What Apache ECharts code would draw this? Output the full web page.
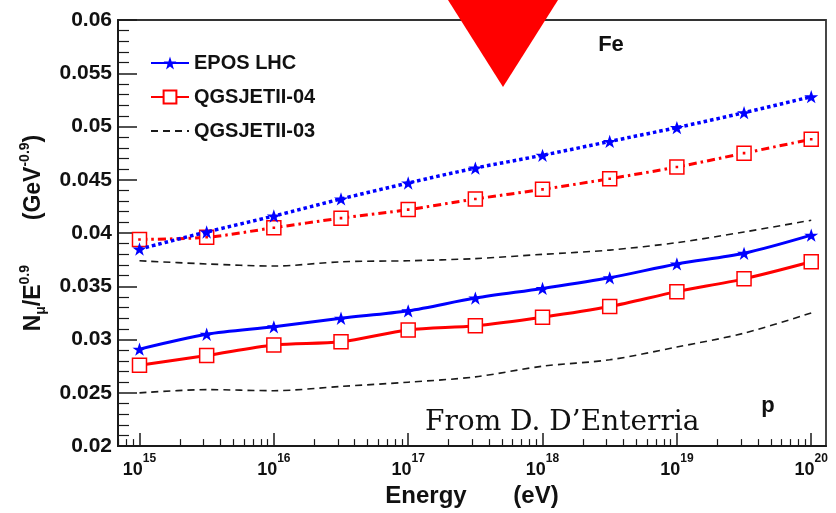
<!DOCTYPE html>
<html>
<head>
<meta charset="utf-8">
<title>Muon number vs energy</title>
<script src="https://cdn.jsdelivr.net/npm/echarts@6/dist/echarts.min.js"></script>
<style>
  html, body { margin: 0; padding: 0; background: #fff; }
  #chart { width: 836px; height: 513px; }
</style>
</head>
<body>
<div id="chart"></div>
<script>
// Primary energy as log10(E / eV)
const energyExp = [15, 15.5, 16, 16.5, 17, 17.5, 18, 18.5, 19, 19.5, 20];

// N_mu / E^0.9 for iron primaries
const eposFe   = [0.0385, 0.0401, 0.0416, 0.0432, 0.0447, 0.0461, 0.0473, 0.0486, 0.0499, 0.0513, 0.0528];
const qgs04Fe  = [0.0394, 0.0396, 0.0405, 0.0414, 0.0422, 0.0432, 0.0441, 0.0451, 0.0462, 0.0475, 0.0488];
const qgs03Fe  = [0.0374, 0.0371, 0.0369, 0.0373, 0.0374, 0.0376, 0.0380, 0.0384, 0.0391, 0.0401, 0.0412];

// N_mu / E^0.9 for proton primaries
const eposP    = [0.0291, 0.0305, 0.0312, 0.0320, 0.0327, 0.0339, 0.0348, 0.0358, 0.0371, 0.0381, 0.0398];
const qgs04P   = [0.0276, 0.0285, 0.0295, 0.0298, 0.0309, 0.0313, 0.0321, 0.0331, 0.0345, 0.0357, 0.0373];
const qgs03P   = [0.0250, 0.0253, 0.0252, 0.0256, 0.0260, 0.0265, 0.0275, 0.0281, 0.0293, 0.0306, 0.0325];

// Axis ticks
const decadeTicks = [15, 16, 17, 18, 19, 20];
const modelNames = ['EPOS LHC', 'QGSJETII-04', 'QGSJETII-03'];

const X_MIN = 14.84, X_MAX = 20.11;
const subDecadeTicks = [];
for (let n = 14; n <= 20; n++) {
  for (let k = 2; k <= 9; k++) {
    const v = n + Math.log10(k);
    if (v >= X_MIN && v <= X_MAX) subDecadeTicks.push(v);
  }
}

const pairs = ys => energyExp.map((x, i) => [x, ys[i]]);

const FONT = 'Liberation Sans, Arial, sans-serif';
const BLUE = '#0000ff', RED = '#ff0000', DARK = '#1a1a1a';
const STAR = 'path://M50,0 L61.8,35.1 L97.6,35.1 L68.5,56.7 L79.4,90.5 L50,69.5 L20.6,90.5 L31.5,56.7 L2.4,35.1 L38.2,35.1 Z';
const SQUARE = 'path://M0,0H20V20H0Z';
const SQUARE_DOT = 'path://M0,0H20V20H0Z M9.2,9.2H10.8V10.8H9.2Z';

function eposSeries(data, dashed) {
  return {
    name: 'EPOS LHC', type: 'line', data: pairs(data), smooth: 0.3,
    symbol: STAR, symbolSize: 14, symbolKeepAspect: true,
    itemStyle: { color: BLUE },
    lineStyle: { color: BLUE, width: dashed ? 3.5 : 3, type: dashed ? [3.5, 3] : 'solid' },
    z: 4
  };
}
function qgs04Series(data, dashed) {
  return {
    name: 'QGSJETII-04', type: 'line', data: pairs(data), smooth: 0.3,
    symbol: dashed ? SQUARE_DOT : SQUARE, symbolSize: 14,
    itemStyle: { color: '#ffffff', borderColor: RED, borderWidth: 1.5 },
    lineStyle: { color: RED, width: 3, type: dashed ? [8, 4, 2.5, 4] : 'solid' },
    z: 3
  };
}
function qgs03Series(data) {
  return {
    name: 'QGSJETII-03', type: 'line', data: pairs(data), smooth: 0.3,
    symbol: 'none',
    itemStyle: { color: DARK },
    lineStyle: { color: DARK, width: 1.6, type: [7, 5] },
    z: 2
  };
}

const chart = echarts.init(document.getElementById('chart'), null, { renderer: 'canvas' });

chart.setOption({
  animation: false,
  backgroundColor: '#ffffff',
  grid: {
    left: 118, right: 10, top: 20, bottom: 65,
    show: true, borderColor: '#333', borderWidth: 1.8, backgroundColor: 'transparent'
  },
  legend: {
    data: [
      { name: modelNames[0] },
      { name: modelNames[1] },
      // dashed line only, no marker
      { name: modelNames[2], itemStyle: { color: 'rgba(0,0,0,0)', borderColor: 'rgba(0,0,0,0)', opacity: 0 } }
    ],
    orient: 'vertical', left: 150, top: 53, padding: 0,
    itemWidth: 38, itemHeight: 16, itemGap: 14,
    textStyle: { fontFamily: FONT, fontWeight: 'bold', fontSize: 20, color: '#111' }
  },
  xAxis: [
    {
      type: 'value', min: X_MIN, max: X_MAX, position: 'bottom',
      name: 'Energy       (eV)', nameLocation: 'middle', nameGap: 37,
      nameTextStyle: { fontFamily: FONT, fontWeight: 'bold', fontSize: 24, color: '#111' },
      axisLine: { show: true, lineStyle: { color: DARK, width: 2 } },
      axisTick: { show: true, inside: true, length: 13, customValues: decadeTicks, lineStyle: { color: DARK, width: 1.5 } },
      axisLabel: {
        customValues: decadeTicks, margin: 7,
        formatter: v => '{b|10}{s|' + Math.round(v) + '}',
        rich: {
          b: { fontFamily: FONT, fontWeight: 'bold', fontSize: 18, lineHeight: 26, verticalAlign: 'bottom', color: '#111' },
          s: { fontFamily: FONT, fontWeight: 'bold', fontSize: 12, lineHeight: 12, verticalAlign: 'top', color: '#111' }
        }
      },
      splitLine: { show: false }
    },
    {
      type: 'value', min: X_MIN, max: X_MAX, position: 'bottom', offset: 0,
      axisLine: { show: false },
      axisTick: { show: true, inside: true, length: 7, customValues: subDecadeTicks, lineStyle: { color: DARK, width: 1.2 } },
      axisLabel: { show: false },
      splitLine: { show: false }
    }
  ],
  yAxis: {
    type: 'value', min: 0.02, max: 0.06, interval: 0.005,
    name: '{m|N}{sub|μ}{m|/E}{sup|0.9}{m|       (GeV}{sup|-0.9}{m|)}',
    nameLocation: 'middle', nameGap: 60,
    nameTextStyle: {
      rich: {
        m:   { fontFamily: FONT, fontWeight: 'bold', fontSize: 23, lineHeight: 30, verticalAlign: 'middle', color: '#111' },
        sup: { fontFamily: FONT, fontWeight: 'bold', fontSize: 14, lineHeight: 14, verticalAlign: 'top', color: '#111' },
        sub: { fontFamily: FONT, fontWeight: 'bold', fontSize: 14, lineHeight: 14, verticalAlign: 'bottom', color: '#111' }
      }
    },
    axisLine: { show: true, lineStyle: { color: DARK, width: 2 } },
    axisTick: { show: true, inside: true, length: 19, lineStyle: { color: DARK, width: 1.5 } },
    minorTick: { show: true, splitNumber: 5, length: 11, lineStyle: { color: DARK, width: 1.2 } },
    axisLabel: {
      margin: 6, fontFamily: FONT, fontWeight: 'bold', fontSize: 21, color: '#111',
      formatter: v => String(parseFloat(v.toFixed(3)))
    },
    splitLine: { show: false },
    minorSplitLine: { show: false }
  },
  series: [
    eposSeries(eposP, false),
    qgs04Series(qgs04P, false),
    qgs03Series(qgs03P),
    eposSeries(eposFe, true),
    qgs04Series(qgs04Fe, true),
    qgs03Series(qgs03Fe)
  ],
  graphic: [
    {
      type: 'text', z: 50,
      style: { text: 'Fe', x: 611, y: 45, fontFamily: FONT, fontWeight: 'bold', fontSize: 22, fill: '#111', textAlign: 'center', verticalAlign: 'middle' }
    },
    {
      type: 'text', z: 50,
      style: { text: 'p', x: 768, y: 406, fontFamily: FONT, fontWeight: 'bold', fontSize: 22, fill: '#111', textAlign: 'center', verticalAlign: 'middle' }
    },
    {
      type: 'text', z: 50,
      style: { text: 'From D. D’Enterria', x: 425, y: 423, fontFamily: 'DejaVu Serif, serif', fontSize: 28, fill: '#111', textAlign: 'left', verticalAlign: 'middle' }
    },
    {
      type: 'polygon', z: 100,
      shape: { points: [[448, 0], [558, 0], [503, 87]] },
      style: { fill: '#ff0000' }
    }
  ]
});
</script>
</body>
</html>
